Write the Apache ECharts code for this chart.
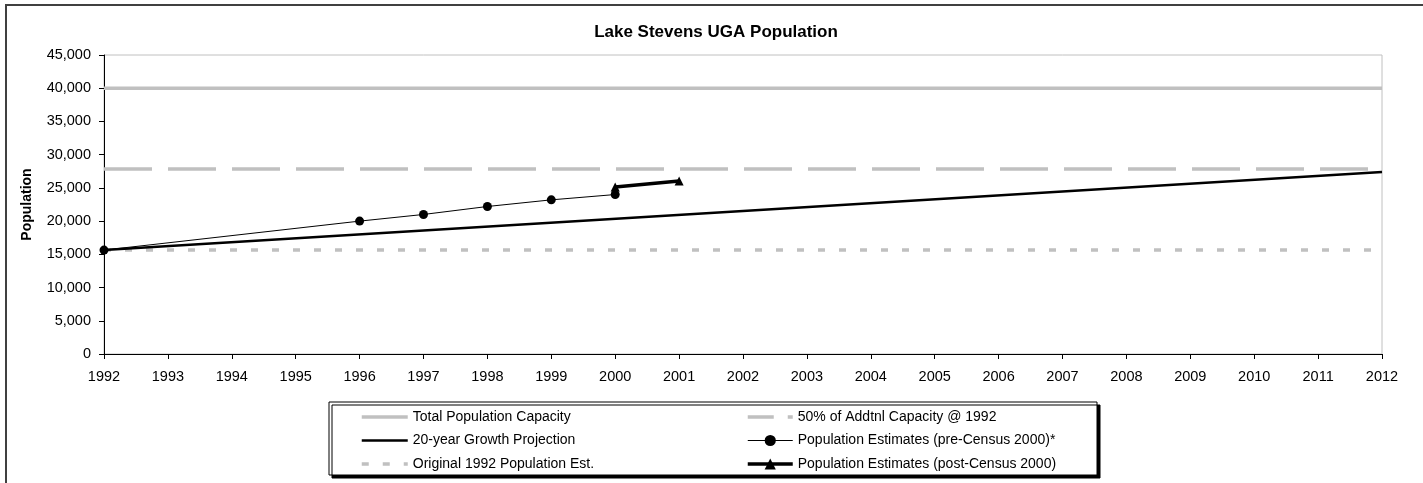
<!DOCTYPE html>
<html>
<head>
<meta charset="utf-8">
<script src="https://cdn.jsdelivr.net/npm/echarts@6/dist/echarts.min.js"></script>
<style>
html,body{margin:0;padding:0;background:#fff;}
#chart{width:1423px;height:483px;}
</style>
</head>
<body>
<div id="chart"></div>
<script>
// ---- data ----
var titleText = 'Lake Stevens UGA Population';
var yAxisName = 'Population';
var xMin = 1992, xMax = 2012;
var yMin = 0, yMax = 45000, yStep = 5000;

var seriesNames = [
  'Total Population Capacity',
  '20-year Growth Projection',
  'Original 1992 Population Est.',
  '50% of Addtnl Capacity @ 1992',
  'Population Estimates (pre-Census 2000)*',
  'Population Estimates (post-Census 2000)'
];

var totalCapacity = [[1992, 40000], [2012, 40000]];
var growthProjection = [[1992, 15640], [2012, 27400]];
var original1992 = [[1992, 15640], [2012, 15640]];
var halfAddtnl = [[1992, 27850], [2012, 27850]];
var preCensus = [[1992, 15640], [1996, 20000], [1997, 21000], [1998, 22200], [1999, 23200], [2000, 24000]];
var postCensus = [[2000, 25150], [2001, 26050]];

var FONT = 'Liberation Sans, Arial, sans-serif';
var GREY = '#c0c0c0';

var chart = echarts.init(document.getElementById('chart'), null, {renderer: 'canvas'});

function lineOnly(name, color, width, type) {
  return {name: name, itemStyle: {opacity: 0},
          lineStyle: {color: color, width: width, type: type}};
}

var legendText = {fontFamily: FONT, fontSize: 14, color: '#000', lineHeight: 14};

var option = {
  animation: false,
  backgroundColor: '#ffffff',
  title: {
    text: titleText,
    left: 711,
    top: 19,
    textAlign: 'center',
    textStyle: {fontFamily: FONT, fontSize: 17, fontWeight: 'bold', color: '#000'}
  },
  graphic: [
    {
      type: 'rect', z: -10, silent: true,
      shape: {x: 6, y: 5, width: 1500, height: 600},
      style: {fill: 'none', stroke: '#404040', lineWidth: 2}
    },
    {
      type: 'rect', z: 0, silent: true,
      shape: {x: 329, y: 402, width: 768, height: 73},
      style: {fill: '#ffffff', stroke: '#000', lineWidth: 1,
              shadowColor: '#000', shadowOffsetX: 3, shadowOffsetY: 3, shadowBlur: 0}
    }
  ],
  grid: {
    left: 104, right: 41, top: 55, bottom: 129,
    show: true, borderColor: GREY, borderWidth: 1, backgroundColor: 'transparent'
  },
  legend: [
    {
      data: [
        lineOnly(seriesNames[0], GREY, 3.5, 'solid'),
        lineOnly(seriesNames[1], '#000', 2.5, 'solid'),
        lineOnly(seriesNames[2], GREY, 3.5, [7, 14])
      ],
      orient: 'vertical', left: 360, top: 410, padding: 0,
      itemWidth: 46, itemHeight: 14, itemGap: 9.5,
      textStyle: legendText, z: 5
    },
    {
      data: [
        lineOnly(seriesNames[3], GREY, 3.5, [26, 14]),
        {name: seriesNames[4], lineStyle: {color: '#000', width: 1}},
        {name: seriesNames[5], lineStyle: {color: '#000', width: 3.5}}
      ],
      orient: 'vertical', left: 746, top: 410, padding: 0,
      itemWidth: 45, itemHeight: 14, itemGap: 9.5,
      textStyle: legendText, z: 5
    }
  ],
  xAxis: {
    type: 'value', min: xMin, max: xMax, interval: 1,
    axisLine: {show: true, onZero: false, lineStyle: {color: '#000', width: 1}},
    axisTick: {show: true, inside: false, length: 5, lineStyle: {color: '#000'}},
    axisLabel: {
      margin: 15, color: '#000', fontFamily: FONT, fontSize: 14.5,
      formatter: function (v) { return String(v); }
    },
    splitLine: {show: false}
  },
  yAxis: {
    type: 'value', min: yMin, max: yMax, interval: yStep,
    name: yAxisName, nameLocation: 'middle', nameGap: 70, nameRotate: 90,
    nameTextStyle: {fontFamily: FONT, fontSize: 14, fontWeight: 'bold', color: '#000'},
    axisLine: {show: true, lineStyle: {color: '#000', width: 1}},
    axisTick: {show: true, inside: false, length: 5, lineStyle: {color: '#000'}},
    axisLabel: {
      margin: 13, color: '#000', fontFamily: FONT, fontSize: 14.5,
      formatter: function (v) { return v.toLocaleString('en-US'); }
    },
    splitLine: {show: false}
  },
  series: [
    {
      name: seriesNames[0], type: 'line', data: totalCapacity,
      symbol: 'none', color: GREY,
      lineStyle: {color: GREY, width: 3.5, type: 'solid'}, z: 2
    },
    {
      name: seriesNames[1], type: 'line', data: growthProjection,
      symbol: 'none', color: '#000',
      lineStyle: {color: '#000', width: 2.5, type: 'solid'}, z: 4
    },
    {
      name: seriesNames[2], type: 'line', data: original1992,
      symbol: 'none', color: GREY,
      lineStyle: {color: GREY, width: 3.5, type: [7, 14]}, z: 2
    },
    {
      name: seriesNames[3], type: 'line', data: halfAddtnl,
      symbol: 'none', color: GREY,
      lineStyle: {color: GREY, width: 3.5, type: [48, 16]}, z: 2
    },
    {
      name: seriesNames[4], type: 'line', data: preCensus,
      symbol: 'circle', symbolSize: 9, showSymbol: true, color: '#000',
      itemStyle: {color: '#000'},
      lineStyle: {color: '#000', width: 1}, z: 5
    },
    {
      name: seriesNames[5], type: 'line', data: postCensus,
      symbol: 'triangle', symbolSize: 9, showSymbol: true, color: '#000',
      itemStyle: {color: '#000'},
      lineStyle: {color: '#000', width: 3.5}, z: 6
    }
  ]
};

chart.setOption(option);
</script>
</body>
</html>
